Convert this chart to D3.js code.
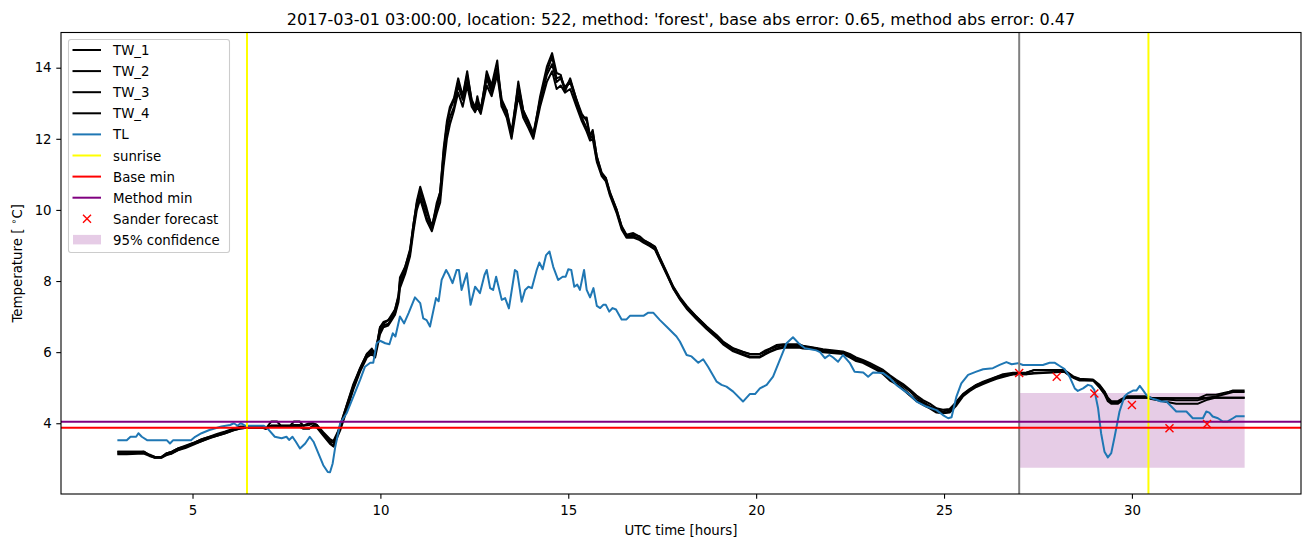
<!DOCTYPE html>
<html><head><meta charset="utf-8">
<script src="https://cdn.jsdelivr.net/npm/d3@7"></script>
<style>body{margin:0;background:#fff}svg{display:block}text{font-family:"DejaVu Sans",sans-serif}</style>
</head><body><svg id="c" width="1310" height="547"></svg>
<script>
const titleText = "2017-03-01 03:00:00, location: 522, method: 'forest', base abs error: 0.65, method abs error: 0.47";
const xTicks = [5,10,15,20,25,30];
const yTicks = [4,6,8,10,12,14];
const twTime = [3.0,3.25,3.7,3.85,4.0,4.17,4.3,4.45,4.63,4.81,
5.03,5.25,5.47,5.65,5.87,6.09,6.27,6.45,6.7,6.85,
6.95,7.1,7.25,7.35,7.6,7.7,7.85,7.95,8.1,8.2,
8.31,8.48,8.66,8.75,8.93,9.1,9.28,9.46,9.64,9.77,
9.86,9.99,10.08,10.21,10.3,10.39,10.48,10.52,10.66,10.79,
10.88,10.97,11.06,11.23,11.37,11.5,11.59,11.68,11.77,11.85,
11.96,12.07,12.19,12.31,12.43,12.52,12.58,12.67,12.83,12.96,
13.11,13.23,13.36,13.49,13.67,13.8,13.94,14.07,14.25,14.43,
14.57,14.69,14.8,14.91,15.05,15.22,15.36,15.49,15.58,15.65,
15.76,15.89,16.0,16.11,16.29,16.42,16.55,16.73,16.9,17.0,
17.17,17.31,17.44,17.62,17.79,17.97,18.15,18.41,18.68,18.95,
19.12,19.39,19.65,19.83,20.1,20.23,20.36,20.54,20.72,21.16,
21.25,21.6,21.78,22.31,22.49,22.66,22.84,23.02,23.2,23.38,
23.56,23.73,23.91,24.09,24.27,24.44,24.62,24.8,24.97,25.15,
25.33,25.5,25.68,25.86,26.04,26.22,26.4,26.57,26.84,27.19,
27.41,28.2,28.26,28.44,28.61,28.97,29.14,29.27,29.36,29.45,
29.63,29.72,29.85,30.38,30.52,31.18,31.76,31.98,32.24,32.59,
32.69,33.0];
const TW_1 = [3.2,3.2,3.2,3.1,3.05,3.05,3.15,3.2,3.3,3.35,
3.45,3.55,3.62,3.67,3.75,3.83,3.9,3.9,3.9,3.9,
3.85,4.05,4.05,3.93,3.93,4.05,4.05,3.93,3.95,4.0,
3.95,3.68,3.45,3.35,3.95,4.5,5.1,5.55,5.95,6.05,
5.9,6.7,6.85,6.9,7.05,7.2,7.55,8.1,8.4,8.85,
9.6,10.25,10.65,10.05,9.5,10.2,10.5,11.7,12.5,12.9,
13.15,13.7,13.2,13.9,13.05,12.8,13.2,12.75,13.9,13.5,
14.2,12.9,12.8,12.06,13.61,12.81,12.44,12.06,13.19,14.03,
14.41,13.85,13.8,13.33,13.7,13.1,12.6,12.6,12.06,12.25,
11.5,11.0,10.9,10.47,10.0,9.53,9.27,9.3,9.25,9.16,
9.06,8.97,8.64,8.22,7.84,7.52,7.28,7.0,6.72,6.48,
6.3,6.11,6.01,5.95,5.95,6.04,6.1,6.2,6.22,6.22,
6.16,6.11,6.01,5.99,5.87,5.78,5.74,5.64,5.52,5.41,
5.22,5.12,4.98,4.8,4.66,4.56,4.45,4.33,4.28,4.33,
4.61,4.82,4.96,5.08,5.17,5.24,5.31,5.38,5.42,5.42,
5.5,5.5,5.41,5.29,5.24,5.22,5.03,4.84,4.67,4.58,
4.58,4.65,4.75,4.75,4.7,4.7,4.7,4.8,4.8,4.89,
4.92,4.92];
const TW_2 = [3.15,3.15,3.2,3.1,3.03,3.03,3.12,3.15,3.25,3.33,
3.42,3.5,3.6,3.65,3.72,3.8,3.85,3.87,3.87,3.87,
3.85,3.93,3.93,3.93,3.93,3.93,3.93,3.85,3.85,3.93,
3.9,3.7,3.5,3.45,3.85,4.4,5.0,5.5,5.9,6.0,
5.95,6.6,6.75,6.8,6.95,7.1,7.5,7.9,8.3,8.8,
9.5,10.1,10.4,9.8,9.45,10.0,10.4,11.4,12.2,12.6,
12.9,13.5,13.1,13.6,13.0,12.8,13.0,12.8,13.7,13.3,
13.9,13.0,12.7,12.1,13.4,12.7,12.4,12.1,13.0,13.8,
14.1,13.6,13.7,13.4,13.6,13.0,12.6,12.3,12.0,12.1,
11.4,11.0,10.85,10.45,9.95,9.5,9.25,9.25,9.2,9.1,
9.0,8.9,8.6,8.2,7.8,7.5,7.25,6.95,6.68,6.42,
6.25,6.05,5.95,5.88,5.88,5.95,6.02,6.1,6.15,6.15,
6.12,6.1,6.05,6.0,5.92,5.82,5.75,5.65,5.55,5.45,
5.3,5.18,5.05,4.9,4.72,4.6,4.48,4.38,4.33,4.38,
4.55,4.78,4.93,5.05,5.13,5.2,5.28,5.33,5.38,5.38,
5.42,5.45,5.45,5.3,5.22,5.2,5.05,4.88,4.7,4.6,
4.6,4.65,4.72,4.72,4.7,4.65,4.65,4.7,4.72,4.72,
4.72,4.72];
const TW_3 = [3.2,3.2,3.2,3.12,3.05,3.05,3.15,3.2,3.3,3.37,
3.45,3.55,3.63,3.7,3.77,3.85,3.9,3.9,3.9,3.9,
3.85,3.93,3.93,3.93,3.93,3.95,3.95,3.93,4.0,4.0,
3.95,3.75,3.55,3.5,3.9,4.5,5.05,5.55,5.95,6.1,
5.95,6.7,6.8,6.9,7.0,7.2,7.6,8.0,8.4,8.9,
9.6,10.2,10.55,9.95,9.55,10.1,10.5,11.6,12.4,12.8,
13.1,13.6,13.2,13.8,13.1,12.9,13.1,12.85,13.8,13.4,
14.0,13.1,12.8,12.2,13.5,12.8,12.5,12.15,13.1,13.9,
14.3,13.7,13.75,13.45,13.65,13.1,12.7,12.5,12.1,12.2,
11.5,11.05,10.9,10.5,10.0,9.55,9.3,9.35,9.25,9.15,
9.05,8.95,8.65,8.25,7.85,7.55,7.3,7.0,6.72,6.45,
6.28,6.1,6.0,5.95,5.95,6.0,6.08,6.15,6.2,6.2,
6.18,6.12,6.08,6.02,5.95,5.85,5.78,5.7,5.6,5.5,
5.35,5.22,5.1,4.95,4.78,4.65,4.55,4.42,4.38,4.4,
4.6,4.8,4.95,5.08,5.15,5.22,5.3,5.35,5.4,5.42,
5.5,5.5,5.45,5.32,5.25,5.22,5.08,4.9,4.72,4.62,
4.62,4.68,4.75,4.75,4.72,4.7,4.7,4.72,4.75,4.85,
4.88,4.88];
const TW_4 = [3.13,3.13,3.15,3.08,3.03,3.03,3.1,3.15,3.25,3.3,
3.4,3.5,3.58,3.65,3.72,3.8,3.85,3.87,3.87,3.87,
3.85,3.93,3.93,3.9,3.9,3.9,3.9,3.85,3.85,3.9,
3.88,3.65,3.42,3.35,3.8,4.35,4.95,5.45,5.85,5.95,
5.85,6.5,6.7,6.75,6.9,7.05,7.4,7.8,8.2,8.7,
9.4,10.0,10.3,9.7,9.4,9.9,10.2,11.2,12.0,12.4,
12.8,13.3,12.9,13.5,12.9,12.75,12.9,12.7,13.5,13.2,
13.8,12.9,12.6,12.0,13.2,12.6,12.3,12.0,12.9,13.6,
13.9,13.4,13.5,13.3,13.4,12.9,12.5,12.2,11.95,12.0,
11.35,10.95,10.8,10.4,9.9,9.45,9.22,9.22,9.15,9.08,
8.98,8.88,8.58,8.18,7.8,7.48,7.22,6.93,6.65,6.4,
6.22,6.02,5.92,5.85,5.85,5.93,6.0,6.08,6.12,6.12,
6.1,6.08,6.0,5.95,5.85,5.75,5.7,5.6,5.5,5.38,
5.2,5.1,4.95,4.78,4.62,4.52,4.42,4.3,4.28,4.3,
4.5,4.75,4.9,5.02,5.1,5.18,5.25,5.3,5.38,5.38,
5.4,5.45,5.4,5.28,5.2,5.2,5.0,4.82,4.62,4.55,
4.55,4.62,4.72,4.72,4.68,4.55,4.55,4.65,4.72,4.72,
4.72,4.72];
const tlTime = [3.0,3.25,3.35,3.5,3.56,3.65,3.8,4.32,4.4,4.48,
4.96,5.07,5.24,5.45,5.77,6.0,6.1,6.2,6.28,6.4,
6.9,7.0,7.19,7.37,7.5,7.57,7.66,7.75,7.86,8.0,
8.12,8.22,8.35,8.48,8.6,8.66,8.73,8.8,8.93,9.1,
9.28,9.46,9.59,9.73,9.81,9.9,9.99,10.13,10.24,10.33,
10.4,10.52,10.63,10.75,10.92,11.06,11.14,11.23,11.32,11.48,
11.55,11.63,11.75,11.81,11.92,12.03,12.09,12.16,12.3,12.4,
12.52,12.65,12.77,12.83,12.92,13.0,13.08,13.23,13.32,13.42,
13.58,13.64,13.76,13.85,13.94,14.03,14.16,14.23,14.32,14.41,
14.5,14.6,14.73,14.85,14.93,15.0,15.08,15.16,15.24,15.31,
15.42,15.49,15.58,15.67,15.76,15.85,15.93,16.0,16.09,16.18,
16.27,16.42,16.55,16.64,17.0,17.13,17.26,17.44,17.66,17.88,
17.97,18.15,18.28,18.46,18.59,18.72,18.95,19.08,19.21,19.39,
19.65,19.83,19.97,20.1,20.28,20.45,20.63,20.81,20.98,21.16,
21.3,21.6,21.7,21.83,21.95,22.05,22.18,22.31,22.49,22.62,
22.85,22.98,23.11,23.38,23.56,23.73,23.91,24.09,24.27,24.53,
24.8,24.97,25.11,25.2,25.33,25.46,25.64,25.86,26.04,26.3,
26.48,26.66,26.8,26.97,27.1,27.63,27.81,27.95,28.08,28.21,
28.34,28.48,28.56,28.7,28.83,28.92,29.0,29.1,29.18,29.27,
29.36,29.45,29.54,29.67,29.8,29.89,30.03,30.12,30.21,30.29,
30.38,30.52,30.65,30.78,30.92,31.05,31.18,31.45,31.62,31.89,
31.98,32.06,32.15,32.29,32.42,32.55,32.69,32.78,33.0];
const TL = [3.52,3.52,3.62,3.62,3.72,3.62,3.52,3.52,3.43,3.52,
3.52,3.62,3.72,3.81,3.91,3.95,4.0,3.93,4.0,3.93,
3.93,3.85,3.62,3.58,3.62,3.53,3.62,3.48,3.29,3.43,
3.62,3.48,3.15,2.82,2.63,2.62,2.87,3.34,4.0,4.28,
4.75,5.22,5.59,5.7,5.7,6.25,6.32,6.25,6.22,6.53,
6.44,7.0,6.81,7.1,7.54,7.38,6.95,6.9,6.72,7.52,
7.43,8.03,8.31,8.2,7.94,8.31,8.31,7.75,8.22,7.33,
7.84,7.66,8.17,8.31,7.8,7.75,8.12,7.47,7.52,7.23,
8.31,8.26,7.42,7.75,7.84,7.8,8.31,8.52,8.33,8.73,
8.83,8.4,8.03,8.12,8.12,8.33,8.31,7.84,7.9,7.75,
8.31,7.75,7.54,7.8,7.3,7.24,7.33,7.33,7.14,7.24,
7.2,6.92,6.92,7.02,7.02,7.11,7.11,6.9,6.67,6.44,
6.3,5.92,5.88,5.7,5.8,5.59,5.17,5.08,5.03,4.89,
4.61,4.82,4.82,4.98,5.08,5.31,5.78,6.25,6.42,6.22,
6.11,6.05,6.0,5.83,5.92,5.85,5.73,5.92,5.7,5.45,
5.43,5.31,5.43,5.41,5.27,5.08,4.94,4.8,4.61,4.47,
4.37,4.23,4.14,4.17,4.75,5.12,5.36,5.45,5.52,5.55,
5.64,5.72,5.66,5.69,5.64,5.64,5.7,5.7,5.61,5.52,
5.31,4.98,4.91,4.98,5.08,5.05,4.94,4.42,3.72,3.2,
3.04,3.16,3.62,4.33,4.75,4.84,4.92,4.92,5.05,4.94,
4.8,4.7,4.66,4.61,4.61,4.47,4.33,4.33,4.14,4.14,
4.33,4.3,4.19,4.14,4.05,4.05,4.14,4.2,4.2];
const sunriseTimes = [6.45, 30.44];
const forecastStart = [27.0];
const baseMin = [3.87];
const methodMin = [4.04];
const forecastTime = [27,28,29,30,31,32];
const forecastValue = [5.41,5.31,4.84,4.51,3.86,3.98];
const confTime = [27.0, 33.0];
const confLow = [2.75, 2.75];
const confHigh = [4.85, 4.85];
const legendLabels = ["TW_1","TW_2","TW_3","TW_4","TL","sunrise","Base min","Method min","Sander forecast","95% confidence"];

const svg = d3.select("#c");
const L=61, R=1301, T=32.5, B=494;
const x = d3.scaleLinear().domain([1.5,34.5]).range([L,R]);
const y = d3.scaleLinear().domain([2.01,14.99]).range([B,T]);
const g = svg.append("g");
g.append("clipPath").attr("id","clip").append("rect").attr("x",L).attr("y",T).attr("width",R-L).attr("height",B-T);
const plot = g.append("g").attr("clip-path","url(#clip)");

// confidence band
const area = d3.area().x((d,i)=>x(confTime[i])).y0((d,i)=>y(confLow[i])).y1((d,i)=>y(confHigh[i]));
plot.append("path").datum(confTime).attr("d",area).attr("fill","#800080").attr("fill-opacity",0.2);

const mkLine = (tt)=>d3.line().x((d,i)=>x(tt[i])).y(d=>y(d));
[TW_1,TW_2,TW_3,TW_4].forEach(s=>{
  const n=Math.min(s.length,twTime.length);
  plot.append("path").datum(s.slice(0,n)).attr("d",mkLine(twTime)).attr("fill","none")
   .attr("stroke","#000").attr("stroke-width",2).attr("stroke-linejoin","round");
});
{
  const n=Math.min(TL.length,tlTime.length);
  plot.append("path").datum(TL.slice(0,n)).attr("d",mkLine(tlTime)).attr("fill","none")
   .attr("stroke","#1f77b4").attr("stroke-width",2).attr("stroke-linejoin","round");
}
sunriseTimes.forEach(t=>plot.append("line").attr("x1",x(t)).attr("x2",x(t)).attr("y1",T).attr("y2",B).attr("stroke","#ffff00").attr("stroke-width",2));
forecastStart.forEach(t=>plot.append("line").attr("x1",x(t)).attr("x2",x(t)).attr("y1",T).attr("y2",B).attr("stroke","#808080").attr("stroke-width",2));
baseMin.forEach(v=>plot.append("line").attr("x1",L).attr("x2",R).attr("y1",y(v)).attr("y2",y(v)).attr("stroke","#ff0000").attr("stroke-width",2));
methodMin.forEach(v=>plot.append("line").attr("x1",L).attr("x2",R).attr("y1",y(v)).attr("y2",y(v)).attr("stroke","#800080").attr("stroke-width",2));
const cross=(sel,cx,cy)=>{const s=4;sel.append("path").attr("d",`M${cx-s},${cy-s}L${cx+s},${cy+s}M${cx-s},${cy+s}L${cx+s},${cy-s}`).attr("stroke","#ff0000").attr("stroke-width",1.4).attr("fill","none");};
forecastTime.forEach((t,i)=>cross(plot,x(t),y(forecastValue[i])));

// axes
const xa = g.append("g").attr("transform",`translate(0,${B})`).call(d3.axisBottom(x).tickValues(xTicks).tickSize(4.7).tickPadding(4.7).tickFormat(d3.format("d")));
const ya = g.append("g").attr("transform",`translate(${L},0)`).call(d3.axisLeft(y).tickValues(yTicks).tickSize(4.7).tickPadding(4.7).tickFormat(d3.format("d")));
[xa,ya].forEach(a=>{a.select(".domain").remove();a.selectAll("line").attr("stroke","#000").attr("stroke-width",1.1);a.selectAll("text").attr("font-size","13.33px").attr("font-family","DejaVu Sans").attr("fill","#000");});
xa.selectAll("text").attr("dy","0.86em");
g.append("rect").attr("x",L).attr("y",T).attr("width",R-L).attr("height",B-T).attr("fill","none").attr("stroke","#000").attr("stroke-width",1.1);

// labels
svg.append("text").attr("x",(L+R)/2).attr("y",24.5).attr("text-anchor","middle").attr("font-size","16px").text(titleText);
svg.append("text").attr("x",(L+R)/2).attr("y",535).attr("text-anchor","middle").attr("font-size","13.33px").text("UTC time [hours]");
const yl = svg.append("text").attr("transform",`translate(21.5,${(T+B)/2}) rotate(-90)`).attr("text-anchor","middle").attr("font-size","13.33px");
yl.append("tspan").text("Temperature [ ");
yl.append("tspan").attr("font-size","9.5px").attr("dy","-5").text("∘");
yl.append("tspan").attr("dy","5").text("C]");

// legend
const lg = svg.append("g");
lg.append("rect").attr("x",68.5).attr("y",39.5).attr("width",161).attr("height",213).attr("rx",2.5)
  .attr("fill","#fff").attr("fill-opacity",0.8).attr("stroke","#cccccc").attr("stroke-width",1.1);
const lcolors = ["#000","#000","#000","#000","#1f77b4","#ffff00","#ff0000","#800080"];
legendLabels.forEach((lab,i)=>{
  const cy = 50 + i*21.1;
  if(i<8){ lg.append("line").attr("x1",72.5).attr("x2",101).attr("y1",cy).attr("y2",cy).attr("stroke",lcolors[i]).attr("stroke-width",2); }
  else if(i===8){ cross(lg,87,cy); }
  else { lg.append("rect").attr("x",73).attr("y",cy-5).attr("width",28).attr("height",9.5).attr("fill","#800080").attr("fill-opacity",0.2); }
  lg.append("text").attr("x",113).attr("y",cy+5).attr("font-size","13.33px").text(lab);
});
</script></body></html>
